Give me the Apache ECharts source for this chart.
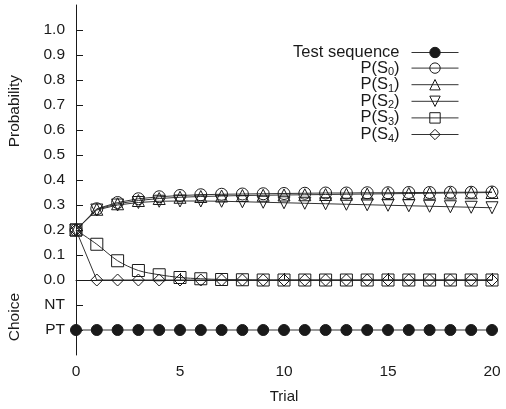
<!DOCTYPE html>
<html><head><meta charset="utf-8">
<script src="https://cdn.jsdelivr.net/npm/echarts@6/dist/echarts.min.js"></script>
<style>html,body{margin:0;padding:0;background:#fff}#c{width:506px;height:409px}</style>
</head><body><div id="c"></div>
<script>
const trials = [0,1,2,3,4,5,6,7,8,9,10,11,12,13,14,15,16,17,18,19,20];
const testSeq = [-0.2,-0.2,-0.2,-0.2,-0.2,-0.2,-0.2,-0.2,-0.2,-0.2,-0.2,-0.2,-0.2,-0.2,-0.2,-0.2,-0.2,-0.2,-0.2,-0.2,-0.2];
const pS0 = [0.2,0.285,0.31,0.325,0.333,0.338,0.341,0.343,0.344,0.345,0.346,0.347,0.348,0.348,0.349,0.349,0.350,0.350,0.351,0.351,0.352];
const pS1 = [0.2,0.283,0.305,0.318,0.326,0.331,0.334,0.336,0.338,0.339,0.340,0.341,0.342,0.343,0.344,0.345,0.346,0.347,0.348,0.349,0.350];
const pS2 = [0.2,0.28,0.30,0.31,0.315,0.316,0.316,0.315,0.313,0.311,0.309,0.307,0.305,0.303,0.301,0.299,0.297,0.295,0.293,0.291,0.289];
const pS3 = [0.2,0.143,0.077,0.038,0.021,0.010,0.005,0.002,0.001,0,0,0,0,0,0,0,0,0,0,0,0];
const pS4 = [0.2,0,0,0,0,0,0,0,0,0,0,0,0,0,0,0,0,0,0,0,0];
const yTicks = [-0.2,-0.1,0,0.1,0.2,0.3,0.4,0.5,0.6,0.7,0.8,0.9,1.0];
const xTicks = [0,5,10,15,20];
const names = ['Test sequence','P(S0)','P(S1)','P(S2)','P(S3)','P(S4)'];

const pair = a => a.map((v,i)=>[trials[i],v]);
const font = 'Liberation Sans, Arial, Helvetica, sans-serif';
const ink = '#1a1a1a';
const lineInk = '#333';
const diamond = 'path://M0,-1L1,0L0,1L-1,0Z';
const mk = (name, data, symbol, size, fill, rot, smooth) => ({
  name, type:'line', data: pair(data), symbol, symbolSize:size, symbolRotate: rot||0,
  smooth: smooth||false,
  lineStyle:{color:lineInk,width:1},
  itemStyle:{color:fill,borderColor:ink,borderWidth:1},
  emphasis:{disabled:true}, animation:false
});

const chart = echarts.init(document.getElementById('c'));
chart.setOption({
  animation:false,
  textStyle:{fontFamily:font,color:ink},
  grid:{left:76,right:14,top:5,bottom:52},
  xAxis:{type:'value',min:0,max:20,interval:5,
    axisLine:{lineStyle:{color:ink,width:1}},
    axisTick:{inside:true,length:7,lineStyle:{color:ink},customValues:xTicks},
    axisLabel:{fontSize:15.5,color:ink,margin:9,fontFamily:font,customValues:xTicks},
    splitLine:{show:false},
    name:'Trial',nameLocation:'middle',nameGap:34,nameTextStyle:{fontSize:15,color:ink,fontFamily:font}},
  yAxis:{type:'value',min:-0.3,max:1.1,interval:0.1,
    axisLine:{show:true,lineStyle:{color:ink,width:1}},
    axisTick:{show:true,inside:true,length:7,lineStyle:{color:ink},customValues:yTicks},
    axisLabel:{fontSize:15.5,color:ink,margin:11,fontFamily:font,customValues:yTicks,
      formatter:v=>{const k=Math.round(v*10); if(k===-2)return 'PT'; if(k===-1)return 'NT'; return (k/10).toFixed(1);}},
    splitLine:{show:false}},
  legend:{orient:'vertical',right:42,top:39,align:'right',itemWidth:47,itemHeight:13,itemGap:-2.4,
    data:names, selectedMode:false,
    lineStyle:{width:1,color:lineInk},
    itemStyle:{borderWidth:1},
    formatter:n=>{const m=n.match(/^P\(S(\d)\)$/); return m?'P(S{sub|'+m[1]+'})':n;},
    textStyle:{fontSize:16.5,lineHeight:15,color:ink,fontFamily:font,width:112,align:'right',padding:[0,7,0,0],
      rich:{sub:{fontSize:11,lineHeight:15,fontFamily:font,color:ink,padding:[8,0,0,0]}}}},
  graphic:[
    {type:'text',left:7,top:75,rotation:Math.PI/2,style:{text:'Probability',font:'15.5px '+font,fill:ink}},
    {type:'text',left:7,top:293,rotation:Math.PI/2,style:{text:'Choice',font:'15.5px '+font,fill:ink}}
  ],
  series:[
    mk(names[0],testSeq,'circle',11,ink),
    mk(names[1],pS0,'circle',12,'rgba(255,255,255,0)'),
    mk(names[2],pS1,'triangle',12,'rgba(255,255,255,0)'),
    mk(names[3],pS2,'triangle',12,'rgba(255,255,255,0)',180),
    mk(names[4],pS3,'rect',12,'rgba(255,255,255,0)',0,0.3),
    mk(names[5],pS4,diamond,12,'rgba(255,255,255,0)')
  ]
});
</script></body></html>
